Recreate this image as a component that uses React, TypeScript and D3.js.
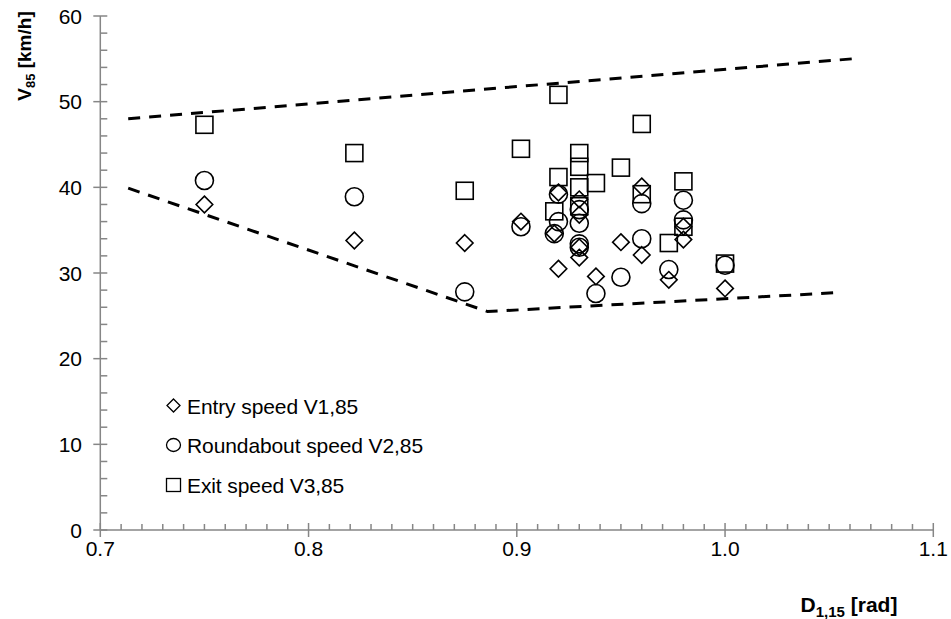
import React from "react";
import * as d3 from "d3";

const xEntry = [0.75, 0.822, 0.875, 0.902, 0.918, 0.92, 0.92, 0.93, 0.93, 0.93, 0.93, 0.938, 0.95, 0.96, 0.96, 0.973, 0.98, 0.98, 1.0];
const yEntry = [38.0, 33.8, 33.5, 36.0, 34.6, 39.4, 30.5, 38.6, 36.8, 33.0, 31.8, 29.6, 33.6, 40.1, 32.1, 29.2, 35.4, 33.9, 28.2];

const xRound = [0.75, 0.822, 0.875, 0.902, 0.918, 0.92, 0.92, 0.93, 0.93, 0.93, 0.93, 0.938, 0.95, 0.96, 0.96, 0.973, 0.98, 0.98, 1.0];
const yRound = [40.8, 38.9, 27.8, 35.4, 34.6, 39.2, 36.0, 37.4, 35.8, 33.4, 33.0, 27.6, 29.5, 38.1, 34.0, 30.4, 38.5, 36.2, 30.9];

const xExit = [0.75, 0.822, 0.875, 0.902, 0.918, 0.92, 0.92, 0.93, 0.93, 0.93, 0.93, 0.938, 0.95, 0.96, 0.96, 0.973, 0.98, 0.98, 1.0];
const yExit = [47.3, 44.0, 39.6, 44.5, 37.2, 50.8, 41.2, 44.0, 42.4, 40.0, 37.8, 40.5, 42.3, 47.4, 39.2, 33.5, 40.7, 35.4, 31.1];

const upperX = [0.7134, 1.0611];
const upperY = [48.0, 55.0];
const lowerX = [0.7134, 0.886, 1.0533];
const lowerY = [39.9, 25.5, 27.7];

const xTicks = [0.7, 0.8, 0.9, 1.0, 1.1];
const xTickLabels = ["0.7", "0.8", "0.9", "1.0", "1.1"];
const yTicks = [0, 10, 20, 30, 40, 50, 60];

const legendLabels = ["Entry speed V1,85", "Roundabout speed V2,85", "Exit speed V3,85"];

const W = 951;
const H = 619;
const FONT = "'Liberation Sans', Arial, Helvetica, sans-serif";
const AXIS = "#868686";

export default function App() {
  const x = d3.scaleLinear().domain([0.7, 1.1]).range([100.3, 933.3]);
  const y = d3.scaleLinear().domain([0, 60]).range([530, 16]);

  const xMinor = d3.range(0, 41).map((i) => 0.7 + i * 0.01).filter((_, i) => i % 10 !== 0);
  const yMinor = d3.range(0, 31).map((i) => i * 2).filter((v) => v % 10 !== 0);

  const line = d3
    .line<[number, number]>()
    .x((d) => x(d[0]))
    .y((d) => y(d[1]));

  const upper = line(upperX.map((v, i) => [v, upperY[i]]) as [number, number][]);
  const lower = line(lowerX.map((v, i) => [v, lowerY[i]]) as [number, number][]);

  const diamond = (cx: number, cy: number, r: number) =>
    `M${cx},${cy - r}L${cx + r},${cy}L${cx},${cy + r}L${cx - r},${cy}Z`;

  const sw = 1.6;

  return (
    <svg width={W} height={H} style={{ position: "absolute", left: 0, top: 0, background: "#fff" }} fontFamily={FONT}>
      <rect x={0} y={0} width={W} height={H} fill="#fff" />
      {/* axes */}
      <g stroke={AXIS} strokeWidth={1.5} fill="none">
        <line x1={x(0.7)} x2={x(0.7)} y1={y(60)} y2={y(0)} />
        <line x1={x(0.7)} x2={x(1.1)} y1={y(0)} y2={y(0)} />
        {yTicks.map((t) => (
          <line key={"yt" + t} x1={x(0.7) - 7} x2={x(0.7) + 7} y1={y(t)} y2={y(t)} />
        ))}
        {yMinor.map((t) => (
          <line key={"ym" + t} x1={x(0.7)} x2={x(0.7) + 7} y1={y(t)} y2={y(t)} />
        ))}
        {xTicks.map((t) => (
          <line key={"xt" + t} x1={x(t)} x2={x(t)} y1={y(0) - 7} y2={y(0) + 7} />
        ))}
        {xMinor.map((t, i) => (
          <line key={"xm" + i} x1={x(t)} x2={x(t)} y1={y(0) - 6} y2={y(0)} />
        ))}
      </g>
      {/* tick labels */}
      <g fontSize={21} fill="#000">
        {yTicks.map((t) => (
          <text key={"yl" + t} x={82} y={y(t) + 7.5} textAnchor="end">
            {t}
          </text>
        ))}
        {xTicks.map((t, i) => (
          <text key={"xl" + t} x={x(t)} y={556} textAnchor="middle">
            {xTickLabels[i]}
          </text>
        ))}
      </g>
      {/* bounding lines */}
      <g stroke="#000" strokeWidth={3} fill="none" strokeDasharray="12,9">
        <path d={upper || ""} />
        <path d={lower || ""} />
      </g>
      {/* points */}
      <g stroke="#000" strokeWidth={sw} fill="none">
        {xExit.map((v, i) => (
          <rect key={"s" + i} x={x(v) - 8.5} y={y(yExit[i]) - 8.5} width={17} height={17} />
        ))}
        {xRound.map((v, i) => (
          <circle key={"c" + i} cx={x(v)} cy={y(yRound[i])} r={9} />
        ))}
        {xEntry.map((v, i) => (
          <path key={"d" + i} d={diamond(x(v), y(yEntry[i]), 8.3)} />
        ))}
      </g>
      {/* legend */}
      <g stroke="#000" strokeWidth={1.3} fill="none">
        <path d={diamond(173.5, 405.5, 6.5)} />
        <ellipse cx={173.5} cy={445} rx={7} ry={6.5} />
        <rect x={166.5} y={478.5} width={14} height={13} />
      </g>
      <g fontSize={21} fill="#000">
        <text x={187} y={413.5} letterSpacing={-0.1}>{legendLabels[0]}</text>
        <text x={187} y={453} letterSpacing={-0.1}>{legendLabels[1]}</text>
        <text x={187} y={492.5} letterSpacing={-0.1}>{legendLabels[2]}</text>
      </g>
      {/* axis titles */}
      <text x={849} y={612} textAnchor="middle" fontSize={21} fontWeight="bold" fill="#000">
        D<tspan fontSize={15} dy={5}>1,15</tspan>
        <tspan dy={-5}> [rad]</tspan>
      </text>
      <text
        transform="translate(31,56) rotate(-90)"
        textAnchor="middle"
        fontSize={19}
        fontWeight="bold"
        fill="#000"
      >
        V<tspan fontSize={13} dy={4}>85</tspan>
        <tspan dy={-4}> [km/h]</tspan>
      </text>
    </svg>
  );
}
